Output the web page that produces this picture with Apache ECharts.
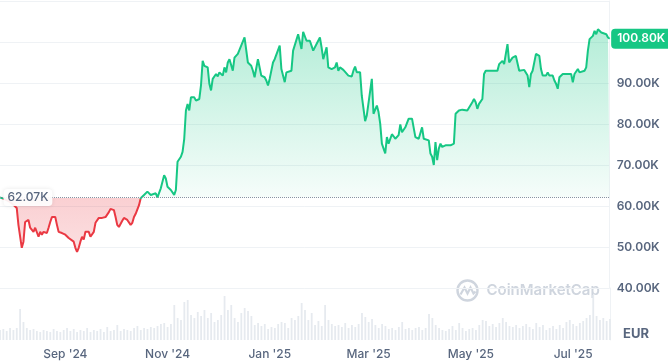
<!DOCTYPE html>
<html><head><meta charset="utf-8">
<script src="https://cdn.jsdelivr.net/npm/echarts@6/dist/echarts.min.js"></script>
<style>html,body{margin:0;padding:0;background:#fff}#c{width:668px;height:362px}</style>
</head><body><div id="c"></div>
<script>
// ---- data (BTC price in EUR, thousands) ----
const priceDates = [
'2024-07-24','2024-07-27','2024-07-30','2024-08-01','2024-08-03','2024-08-04','2024-08-06','2024-08-07','2024-08-08','2024-08-10',
'2024-08-11','2024-08-12','2024-08-13','2024-08-14','2024-08-16','2024-08-17','2024-08-18','2024-08-19','2024-08-21','2024-08-22',
'2024-08-23','2024-08-24','2024-08-25','2024-08-26','2024-08-27','2024-08-28','2024-08-30','2024-09-01','2024-09-02','2024-09-03',
'2024-09-04','2024-09-06','2024-09-07','2024-09-08','2024-09-09','2024-09-10','2024-09-11','2024-09-12','2024-09-13','2024-09-15',
'2024-09-16','2024-09-17','2024-09-18','2024-09-19','2024-09-21','2024-09-23','2024-09-25','2024-09-26','2024-09-27','2024-09-28',
'2024-09-30','2024-10-01','2024-10-02','2024-10-03','2024-10-05','2024-10-06','2024-10-08','2024-10-09','2024-10-10','2024-10-11',
'2024-10-12','2024-10-13','2024-10-14','2024-10-15','2024-10-16','2024-10-17','2024-10-18','2024-10-20','2024-10-21','2024-10-22',
'2024-10-23','2024-10-25','2024-10-26','2024-10-27','2024-10-28','2024-10-30','2024-10-31','2024-11-01','2024-11-03','2024-11-05',
'2024-11-06','2024-11-07','2024-11-08','2024-11-09','2024-11-10','2024-11-11','2024-11-12','2024-11-13','2024-11-14','2024-11-15',
'2024-11-16','2024-11-17','2024-11-18','2024-11-20','2024-11-21','2024-11-22','2024-11-23','2024-11-25','2024-11-26','2024-11-27',
'2024-11-28','2024-11-29','2024-11-30','2024-12-01','2024-12-02','2024-12-04','2024-12-05','2024-12-06','2024-12-07','2024-12-08',
'2024-12-09','2024-12-10','2024-12-11','2024-12-13','2024-12-14','2024-12-15','2024-12-17','2024-12-18','2024-12-19','2024-12-21',
'2024-12-22','2024-12-23','2024-12-25','2024-12-27','2024-12-29','2024-12-30','2024-12-31','2025-01-01','2025-01-03','2025-01-04',
'2025-01-05','2025-01-07','2025-01-08','2025-01-10','2025-01-11','2025-01-12','2025-01-14','2025-01-15','2025-01-16','2025-01-18',
'2025-01-19','2025-01-20','2025-01-21','2025-01-23','2025-01-25','2025-01-26','2025-01-27','2025-01-29','2025-01-31','2025-02-01',
'2025-02-02','2025-02-04','2025-02-05','2025-02-07','2025-02-09','2025-02-10','2025-02-11','2025-02-12','2025-02-14','2025-02-15',
'2025-02-17','2025-02-19','2025-02-20','2025-02-21','2025-02-22','2025-02-24','2025-02-25','2025-02-27','2025-02-28','2025-03-01',
'2025-03-03','2025-03-04','2025-03-05','2025-03-06','2025-03-07','2025-03-08','2025-03-09','2025-03-11','2025-03-12','2025-03-13',
'2025-03-15','2025-03-16','2025-03-17','2025-03-19','2025-03-20','2025-03-21','2025-03-22','2025-03-23','2025-03-25','2025-03-27',
'2025-03-28','2025-03-29','2025-03-31','2025-04-01','2025-04-02','2025-04-03','2025-04-04','2025-04-06','2025-04-07','2025-04-08',
'2025-04-09','2025-04-10','2025-04-11','2025-04-12','2025-04-13','2025-04-14','2025-04-16','2025-04-17','2025-04-19','2025-04-20',
'2025-04-21','2025-04-22','2025-04-24','2025-04-26','2025-04-27','2025-04-29','2025-04-30','2025-05-02','2025-05-03','2025-05-04',
'2025-05-05','2025-05-06','2025-05-08','2025-05-09','2025-05-10','2025-05-11','2025-05-12','2025-05-13','2025-05-15','2025-05-17',
'2025-05-18','2025-05-20','2025-05-21','2025-05-22','2025-05-23','2025-05-24','2025-05-25','2025-05-26','2025-05-28','2025-05-29',
'2025-05-30','2025-05-31','2025-06-02','2025-06-03','2025-06-04','2025-06-05','2025-06-06','2025-06-07','2025-06-08','2025-06-09',
'2025-06-11','2025-06-12','2025-06-13','2025-06-14','2025-06-15','2025-06-16','2025-06-17','2025-06-19','2025-06-20','2025-06-21',
'2025-06-22','2025-06-23','2025-06-25','2025-06-26','2025-06-28','2025-06-29','2025-06-30','2025-07-01','2025-07-02','2025-07-04',
'2025-07-05','2025-07-06','2025-07-08','2025-07-09','2025-07-10','2025-07-11','2025-07-13','2025-07-14','2025-07-15','2025-07-16',
'2025-07-18','2025-07-19','2025-07-21','2025-07-22','2025-07-23'
];
const pricesK = [
62.07,61.6,61.0,60.3,59.5,55.4,49.8,51.3,56.1,56.6,
54.7,54.9,53.7,54.7,52.5,53.7,53.0,53.7,53.4,54.7,
56.1,57.3,57.1,57.3,55.4,53.7,53.4,53.0,53.4,52.2,
52.5,51.3,49.8,48.8,49.8,51.3,52.5,51.8,53.7,53.7,
52.5,52.2,53.7,55.9,57.1,57.1,57.3,57.1,58.5,59.3,
59.0,57.3,55.4,54.9,56.4,57.1,56.6,56.4,55.4,55.9,
57.3,58.1,57.8,60.2,61.9,62.2,62.7,63.5,63.9,62.7,
62.3,63.1,62.1,62.5,64.3,67.5,66.7,64.7,63.9,62.7,
63.9,70.8,71.2,72.0,73.2,76.4,83.3,84.9,83.3,86.5,
86.1,86.5,85.7,86.1,89.4,95.4,94.2,93.8,89.8,88.2,
91.0,91.4,92.2,91.6,92.6,91.8,93.8,92.6,95.0,95.8,
96.2,93.0,96.2,97.1,97.5,99.1,101.1,101.5,95.0,94.2,
93.0,91.4,95.8,91.8,91.4,90.6,89.4,91.0,95.0,95.8,
95.8,99.1,93.4,90.2,92.6,92.6,93.0,97.9,98.3,101.9,
102.3,98.3,102.5,100.3,100.3,99.9,97.9,99.5,101.1,98.7,
95.8,98.7,93.8,93.4,93.8,95.0,93.0,93.8,93.2,93.6,
91.8,91.6,93.0,94.0,92.6,92.6,86.9,80.7,82.1,82.1,
91.0,82.5,82.5,84.5,82.9,80.1,75.2,72.8,76.8,75.2,
77.5,77.0,76.4,77.3,79.9,78.0,77.6,79.2,81.3,81.3,
80.9,76.8,76.4,76.8,79.2,76.4,76.8,76.0,72.8,72.0,
70.0,75.6,71.2,74.0,75.2,74.4,74.8,74.4,74.8,74.6,
75.2,82.5,83.3,83.5,83.7,83.3,83.7,85.3,86.1,85.3,
83.7,84.9,86.1,92.2,93.0,93.4,93.0,93.4,93.0,93.0,
94.6,95.4,94.6,97.1,99.5,95.0,95.0,96.2,96.6,96.2,
93.0,92.6,93.2,93.0,91.8,89.0,92.2,93.0,93.4,97.1,
96.6,93.4,91.8,92.0,91.8,92.6,91.8,91.8,90.6,89.8,
88.6,91.4,92.2,91.8,92.2,91.8,92.2,90.2,92.2,93.4,
92.6,93.0,93.0,93.8,97.9,100.7,101.5,102.7,101.9,103.1,
102.3,102.1,101.9,101.1,100.8
];
const baselineK = 62.07;      // price at start of the period
const lastPriceK = 100.80;    // latest price
// trading volume (bn EUR), sampled every 2 days from volumeStart
const volumeStart = '2024-07-24';
const volumeStepDays = 2;
const volumeBn = [
30,33,27,36,30,36,93,54,36,30, 33,27,24,30,27,24,33,27,24,30,
36,27,33,24,30,27,36,24,30,27, 33,24,39,27,30,45,27,33,30,27,
36,42,30,36,33,39,36,42,48,51, 39,48,105,66,60,114,120,75,66,84,
72,90,66,81,54,60,75,132,90,105, 66,54,81,96,87,72,45,51,42,48,
33,39,36,48,54,51,36,66,60,72, 111,90,60,81,45,57,42,105,60,48,
42,45,39,51,36,45,39,48,81,69, 54,63,45,36,48,42,33,36,30,39,
54,33,36,30,36,39,30,36,78,66, 45,36,30,27,33,42,30,51,36,27,
33,36,30,45,60,57,42,48,39,51, 66,54,42,39,45,36,42,48,39,33,
51,39,45,30,36,42,33,45,36,54, 60,48,42,51,57,66,75,135,72,60,
66,57,63
];
const axisStart = '2024-07-24', axisEnd = '2025-07-23';
const xTickDates = ['2024-09-01','2024-11-01','2025-01-01','2025-03-01','2025-05-01','2025-07-01'];
const xTickLabels = ["Sep '24","Nov '24","Jan '25","Mar '25","May '25","Jul '25"];
const yMinK = 40, yMaxK = 110, yStepK = 10;
const currencyLabel = 'EUR';
const watermarkText = 'CoinMarketCap';

// ---- chart ----
function ts(s){ const p = s.split('-').map(Number); return Date.UTC(p[0], p[1]-1, p[2]); }
const DAY = 86400000;
const priceData = priceDates.map((d,i)=>[ts(d), pricesK[i]]);
const volData = volumeBn.map((v,i)=>[ts(volumeStart) + i*volumeStepDays*DAY, v]);
const tickTs = xTickDates.map(ts);
const GREEN = '#16c784', RED = '#ea3943', TXT = '#58667e', GRID = '#eff2f5';
const maxP = Math.max(...pricesK), minP = Math.min(...pricesK);
const off = (maxP - baselineK) / (maxP - minP);
const FONT = 'Inter, "Noto Sans", sans-serif';
const LG = echarts.graphic.LinearGradient;

const chart = echarts.init(document.getElementById('c'), null, {renderer:'canvas'});
chart.setOption({
  animation: false,
  backgroundColor: '#fff',
  grid: [
    {left: 0, right: 58, top: 1, height: 287},
    {left: 0, right: 58, top: 288, bottom: 22}
  ],
  xAxis: [
    {type:'value', gridIndex:0, min: ts(axisStart), max: ts(axisEnd), show:false},
    {type:'value', gridIndex:1, min: ts(axisStart), max: ts(axisEnd),
     axisLine:{show:false}, axisTick:{show:false}, splitLine:{show:false},
     axisLabel:{customValues: tickTs, margin: 8, color: TXT, fontSize: 12, fontFamily: FONT, fontWeight: 500,
       formatter: v => { const i = tickTs.indexOf(v); return i >= 0 ? xTickLabels[i] : ''; }}}
  ],
  yAxis: [
    {type:'value', gridIndex:0, position:'right', min: yMinK, max: yMaxK, interval: yStepK,
     axisLine:{show:true, lineStyle:{color: GRID}}, axisTick:{show:false},
     splitLine:{lineStyle:{color: GRID}},
     axisLabel:{showMaxLabel:false, margin: 7, color: TXT, fontSize: 12, fontWeight: 600, fontFamily: FONT,
       formatter: v => v.toFixed(2) + 'K'}},
    {type:'value', gridIndex:1, position:'right', min:0, max:156,
     axisLine:{show:true, lineStyle:{color: GRID}}, axisTick:{show:false},
     splitLine:{show:false}, axisLabel:{show:false}}
  ],
  series: [
    {type:'line', xAxisIndex:0, yAxisIndex:0, data: priceData, showSymbol:false, z: 3,
     lineStyle:{width:2, color: new LG(0,0,0,1,[
        {offset:0, color: GREEN}, {offset:off, color: GREEN},
        {offset:off, color: RED}, {offset:1, color: RED}])},
     areaStyle:{origin: baselineK, opacity: 1, color: new LG(0,0,0,1,[
        {offset:0, color:'rgba(22,199,132,0.32)'},
        {offset:off, color:'rgba(22,199,132,0.04)'},
        {offset:off, color:'rgba(234,57,67,0.24)'},
        {offset:1, color:'rgba(234,57,67,0.16)'}])},
     markLine:{silent:true, symbol:'none', label:{show:false},
       lineStyle:{type:'dotted', color:'#8a93a3', width:1},
       data:[{yAxis: baselineK}]},
     markPoint:{silent:true, data:[
       {coord:[priceData[0][0], baselineK], symbol:'rect', symbolSize:1, itemStyle:{color:'transparent'},
        label:{show:true, position:'right', distance:3, formatter: baselineK.toFixed(2)+'K',
          color: TXT, fontSize:12, fontWeight:500, fontFamily: FONT,
          backgroundColor:'rgba(255,255,255,0.92)', padding:[3,4,2,4], borderRadius:4,
          shadowBlur:4, shadowColor:'rgba(0,0,0,0.1)'}},
       {coord:[priceData[priceData.length-1][0], lastPriceK], symbol:'rect', symbolSize:1, itemStyle:{color:'transparent'},
        label:{show:true, position:'right', distance:1, formatter: lastPriceK.toFixed(2)+'K',
          color:'#fff', fontSize:12, fontWeight:600, fontFamily: FONT,
          backgroundColor: GREEN, padding:[4,6,4,6], borderRadius:4}}
     ]}},
    {type:'bar', xAxisIndex:1, yAxisIndex:1, data: volData, barWidth:1.8, silent:true,
     itemStyle:{color:'#e6eaef'}}
  ],
  graphic: [
    {type:'text', left: 623, top: 328, style:{text: currencyLabel, fill: TXT, font: '700 13px ' + FONT}},
    {type:'group', left: 455, top: 278, silent:true, children:[
      {type:'circle', shape:{cx:11, cy:11, r:10}, style:{fill:'none', stroke:'#cfd5de', lineWidth:2.4}},
      {type:'polyline', shape:{points:[[4,15],[8,8],[11,14],[14,8],[17,14],[19,12]]}, style:{fill:'none', stroke:'#cfd5de', lineWidth:2.2}},
      {type:'text', left: 30, top: 3, style:{text: watermarkText, fill:'#cfd5de', font:'600 15px ' + FONT}}
    ]}
  ]
});
</script></body></html>
